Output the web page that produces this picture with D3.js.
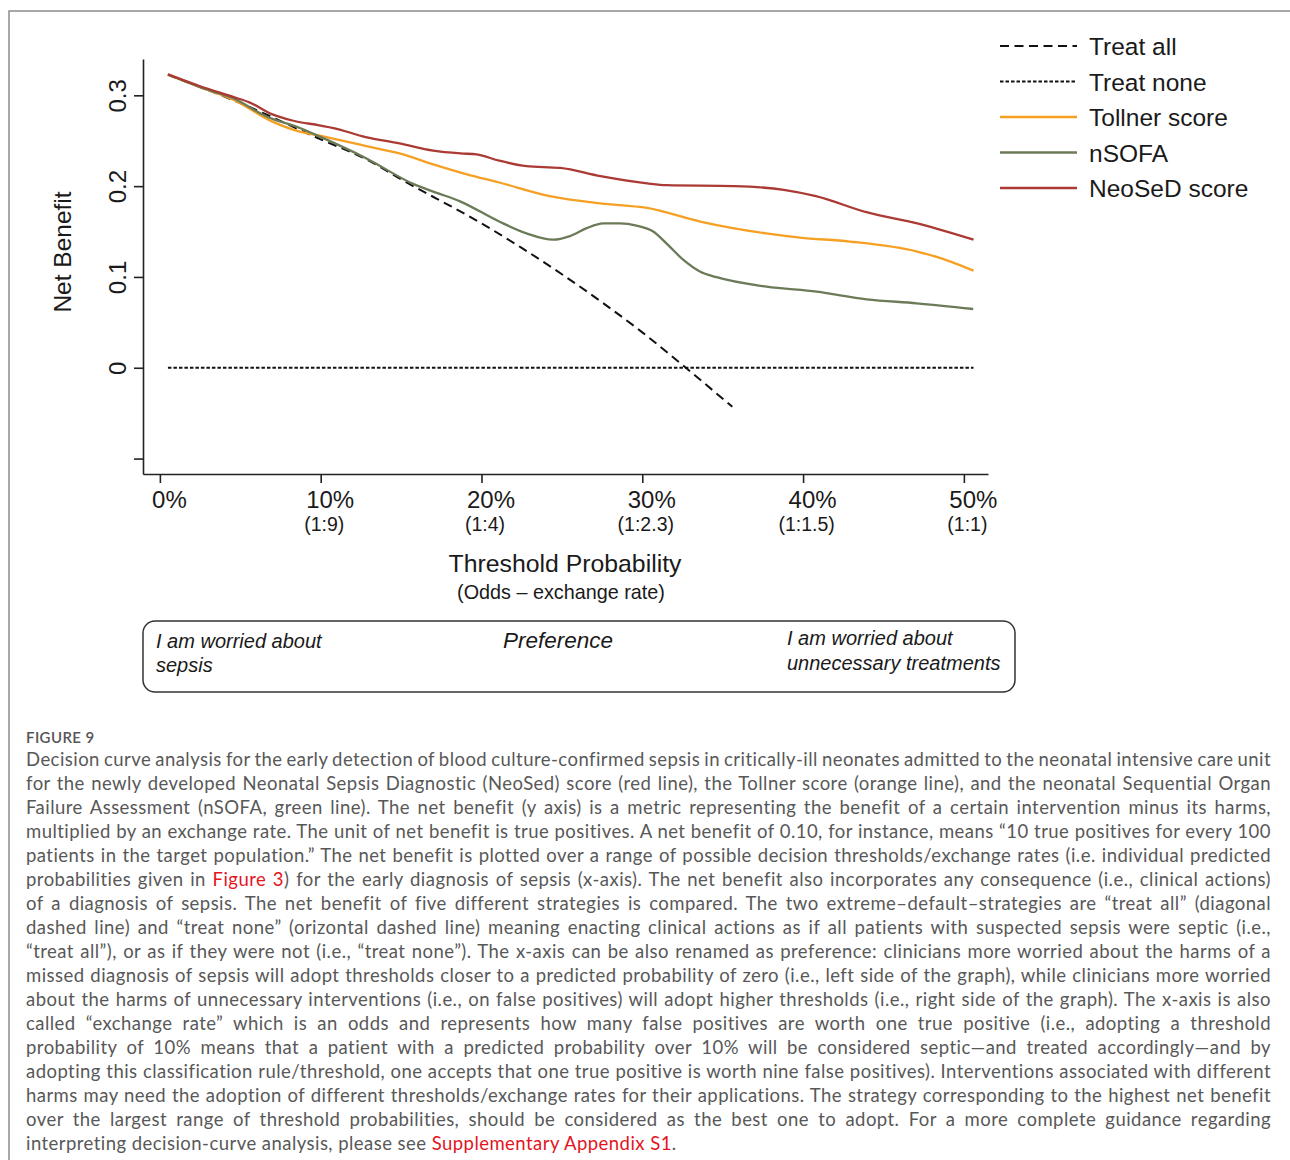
<!DOCTYPE html>
<html>
<head>
<meta charset="utf-8">
<script src="https://cdn.jsdelivr.net/npm/d3@7"></script>
<style>
  body { margin: 0; background: #fff; }
  svg { display: block; }
</style>
</head>
<body>
<svg id="fig"></svg>
<script>
const width = 1290,
  height = 1160;

// threshold probability, net benefit
const treatAll = [
  [0.005, 0.3225], [0.05, 0.2915], [0.1, 0.2515], [0.1285, 0.2295], [0.15, 0.2075], [0.2, 0.159],
  [0.225, 0.132], [0.25, 0.103], [0.275, 0.072], [0.3, 0.039], [0.325, 0.003], [0.356, -0.043]
];
const treatNone = [[0.005, 0], [0.506, 0]];
const tollner = [
  [0.005, 0.323], [0.025, 0.309], [0.046, 0.295], [0.07, 0.271], [0.087, 0.26],
  [0.0995, 0.2555], [0.1285, 0.244], [0.149, 0.236], [0.17, 0.224], [0.191, 0.213],
  [0.211, 0.204], [0.2425, 0.189], [0.274, 0.181], [0.303, 0.176], [0.336, 0.161],
  [0.377, 0.148], [0.398, 0.1434], [0.429, 0.139], [0.471, 0.128], [0.485, 0.121], [0.506, 0.107]
];
const nsofa = [
  [0.005, 0.323], [0.025, 0.309], [0.046, 0.2965], [0.066, 0.277], [0.087, 0.264],
  [0.0995, 0.2545], [0.1285, 0.2305], [0.1575, 0.2025], [0.17, 0.194], [0.187, 0.183],
  [0.211, 0.161], [0.228, 0.148], [0.2446, 0.141], [0.255, 0.145], [0.2654, 0.1537],
  [0.2757, 0.159], [0.2861, 0.159], [0.2964, 0.1566], [0.3068, 0.15], [0.315, 0.137],
  [0.3254, 0.119], [0.3358, 0.106], [0.3462, 0.0997], [0.3773, 0.0893], [0.4084, 0.0838],
  [0.4395, 0.0754], [0.4706, 0.071], [0.5058, 0.0647]
];
const neosed = [
  [0.005, 0.323], [0.025, 0.31], [0.046, 0.298], [0.056, 0.292], [0.07, 0.279],
  [0.083, 0.272], [0.099, 0.267], [0.108, 0.264], [0.128, 0.254], [0.149, 0.247],
  [0.17, 0.239], [0.187, 0.236], [0.197, 0.235], [0.211, 0.228], [0.228, 0.222],
  [0.249, 0.22], [0.274, 0.211], [0.303, 0.203], [0.315, 0.201], [0.357, 0.2],
  [0.388, 0.196], [0.408, 0.189], [0.44, 0.171], [0.471, 0.159], [0.506, 0.141]
];

const xTicks = [0, 0.1, 0.2, 0.3, 0.4, 0.5];
const xTickLabels = ["0%", "10%", "20%", "30%", "40%", "50%"];
const oddsLabels = ["", "(1:9)", "(1:4)", "(1:2.3)", "(1:1.5)", "(1:1)"];
const yTicks = [-0.1, 0, 0.1, 0.2, 0.3];
const yTickLabels = ["", "0", "0.1", "0.2", "0.3"];

const legendNames = ["Treat all", "Treat none", "Tollner score", "nSOFA", "NeoSeD score"];

const captionLines = [
  "Decision curve analysis for the early detection of blood culture-confirmed sepsis in critically-ill neonates admitted to the neonatal intensive care unit",
  "for the newly developed Neonatal Sepsis Diagnostic (NeoSed) score (red line), the Tollner score (orange line), and the neonatal Sequential Organ",
  "Failure Assessment (nSOFA, green line). The net benefit (y axis) is a metric representing the benefit of a certain intervention minus its harms,",
  "multiplied by an exchange rate. The unit of net benefit is true positives. A net benefit of 0.10, for instance, means \u201c10 true positives for every 100",
  "patients in the target population.\u201d The net benefit is plotted over a range of possible decision thresholds/exchange rates (i.e. individual predicted",
  "probabilities given in [Figure 3]) for the early diagnosis of sepsis (x-axis). The net benefit also incorporates any consequence (i.e., clinical actions)",
  "of a diagnosis of sepsis. The net benefit of five different strategies is compared. The two extreme\u2013default\u2013strategies are \u201ctreat all\u201d (diagonal",
  "dashed line) and \u201ctreat none\u201d (orizontal dashed line) meaning enacting clinical actions as if all patients with suspected sepsis were septic (i.e.,",
  "\u201ctreat all\u201d), or as if they were not (i.e., \u201ctreat none\u201d). The x-axis can be also renamed as preference: clinicians more worried about the harms of a",
  "missed diagnosis of sepsis will adopt thresholds closer to a predicted probability of zero (i.e., left side of the graph), while clinicians more worried",
  "about the harms of unnecessary interventions (i.e., on false positives) will adopt higher thresholds (i.e., right side of the graph). The x-axis is also",
  "called \u201cexchange rate\u201d which is an odds and represents how many false positives are worth one true positive (i.e., adopting a threshold",
  "probability of 10% means that a patient with a predicted probability over 10% will be considered septic\u2014and treated accordingly\u2014and by",
  "adopting this classification rule/threshold, one accepts that one true positive is worth nine false positives). Interventions associated with different",
  "harms may need the adoption of different thresholds/exchange rates for their applications. The strategy corresponding to the highest net benefit",
  "over the largest range of threshold probabilities, should be considered as the best one to adopt. For a more complete guidance regarding",
  "interpreting decision-curve analysis, please see [Supplementary Appendix S1]."
];

const svg = d3.select("#fig").attr("width", width).attr("height", height);
svg.append("rect").attr("width", width).attr("height", height).attr("fill", "#fff");

// figure frame
svg.append("path")
  .attr("d", `M9,${height} V11 H${width}`)
  .attr("fill", "none")
  .attr("stroke", "#8c8c8c")
  .attr("stroke-width", 1.5);

const x = d3.scaleLinear().domain([-0.0105, 0.515]).range([143, 988]);
const y = d3.scaleLinear().domain([-0.117, 0.34]).range([474, 59]);

const chart = svg.append("g")
  .attr("font-family", "'Liberation Sans', Arial, sans-serif")
  .attr("fill", "#1a1a1a");

// y axis
const yAxis = chart.append("g")
  .attr("transform", `translate(${x.range()[0]},0)`)
  .call(d3.axisLeft(y).tickValues(yTicks).tickSize(9).tickSizeOuter(0)
    .tickFormat((d, i) => yTickLabels[i]));
yAxis.selectAll(".tick text")
  .attr("transform", "rotate(-90)")
  .attr("text-anchor", "middle")
  .attr("x", 0).attr("y", -17).attr("dy", 0)
  .attr("font-size", 24).attr("fill", "#1a1a1a");

// x axis
const xAxis = chart.append("g")
  .attr("transform", `translate(0,${y.range()[0]})`)
  .call(d3.axisBottom(x).tickValues(xTicks).tickSize(9).tickSizeOuter(0).tickFormat(""));
xAxis.selectAll(".tick").each(function (d, i) {
  const g = d3.select(this);
  g.append("text").attr("x", 9).attr("y", 34).attr("text-anchor", "middle")
    .attr("font-size", 24).attr("fill", "#1a1a1a").text(xTickLabels[i]);
  g.append("text").attr("x", 3).attr("y", 57).attr("text-anchor", "middle")
    .attr("font-size", 19.5).attr("fill", "#1a1a1a").text(oddsLabels[i]);
});
chart.selectAll(".domain, .tick line").attr("stroke", "#222").attr("stroke-width", 1.6);

// axis titles
chart.append("text")
  .attr("transform", "translate(71,252) rotate(-90)")
  .attr("text-anchor", "middle").attr("font-size", 24.5).text("Net Benefit");
chart.append("text").attr("x", 565).attr("y", 572)
  .attr("text-anchor", "middle").attr("font-size", 24.8).text("Threshold Probability");
chart.append("text").attr("x", 561).attr("y", 599)
  .attr("text-anchor", "middle").attr("font-size", 19.8).text("(Odds \u2013 exchange rate)");

// lines
const line = d3.line().x(d => x(d[0])).y(d => y(d[1])).curve(d3.curveMonotoneX);
const styles = [
  { data: treatAll, color: "#111", width: 2, dash: "9,5.5" },
  { data: treatNone, color: "#111", width: 2, dash: "3.5,2" },
  { data: tollner, color: "#f5a023", width: 2.3, dash: null },
  { data: nsofa, color: "#6b7b58", width: 2.3, dash: null },
  { data: neosed, color: "#aa3a33", width: 2.3, dash: null }
];
chart.append("g").selectAll("path").data(styles).join("path")
  .attr("d", s => line(s.data))
  .attr("fill", "none")
  .attr("stroke", s => s.color)
  .attr("stroke-width", s => s.width)
  .attr("stroke-dasharray", s => s.dash);

// legend
const legend = chart.append("g").selectAll("g").data(styles).join("g")
  .attr("transform", (s, i) => `translate(1000,${46 + i * 35.5})`);
legend.append("line")
  .attr("x1", 0).attr("x2", 77)
  .attr("stroke", s => s.color)
  .attr("stroke-width", s => s.width)
  .attr("stroke-dasharray", s => s.dash);
legend.append("text").attr("x", 89).attr("y", 9)
  .attr("font-size", 24.5).text((s, i) => legendNames[i]);

// preference box
const box = chart.append("g");
box.append("rect").attr("x", 143).attr("y", 621).attr("width", 872).attr("height", 71)
  .attr("rx", 12).attr("fill", "none").attr("stroke", "#333").attr("stroke-width", 1.5);
const boxText = [
  ["I am worried about", 156, 648, "start", 20],
  ["sepsis", 156, 672, "start", 20],
  ["Preference", 558, 648, "middle", 22.5],
  ["I am worried about", 787, 645, "start", 20],
  ["unnecessary treatments", 787, 670, "start", 20]
];
box.selectAll("text").data(boxText).join("text")
  .attr("x", d => d[1]).attr("y", d => d[2]).attr("text-anchor", d => d[3])
  .attr("font-size", d => d[4]).attr("font-style", "italic").text(d => d[0]);

// caption
svg.append("text").attr("x", 26).attr("y", 743)
  .attr("font-family", "Lato, 'Open Sans', sans-serif").attr("font-size", 15)
  .attr("font-weight", 600).attr("letter-spacing", 0.4).attr("fill", "#555").text("FIGURE 9");

const cap = svg.append("g")
  .attr("font-family", "Lato, 'Open Sans', sans-serif")
  .attr("font-size", 18.5)
  .attr("fill", "#585858");
const capWidth = 1245;
const texts = captionLines.map((txt, i) => {
  const t = cap.append("text").attr("x", 26).attr("y", 766 + 24 * i);
  txt.split(/(\[[^\]]+\])/).forEach(seg => {
    if (!seg) return;
    const red = seg.startsWith("[");
    t.append("tspan").attr("fill", red ? "#e3151f" : null).text(red ? seg.slice(1, -1) : seg);
  });
  return t;
});
// open the tracking so the last (unjustified) line ends where the printed one does
const lastTxt = captionLines[captionLines.length - 1].replace(/[\[\]]/g, "");
const lastW = texts[texts.length - 1].node().getComputedTextLength();
const ls = Math.max(0, Math.min(1, (651 - lastW) / lastTxt.length));
cap.attr("letter-spacing", ls);
texts.forEach((t, i) => {
  if (i === texts.length - 1) return;
  const natural = t.node().getComputedTextLength();
  const spaces = (captionLines[i].match(/ /g) || []).length;
  t.style("word-spacing", ((capWidth - natural) / spaces) + "px");
});
</script>
</body>
</html>
